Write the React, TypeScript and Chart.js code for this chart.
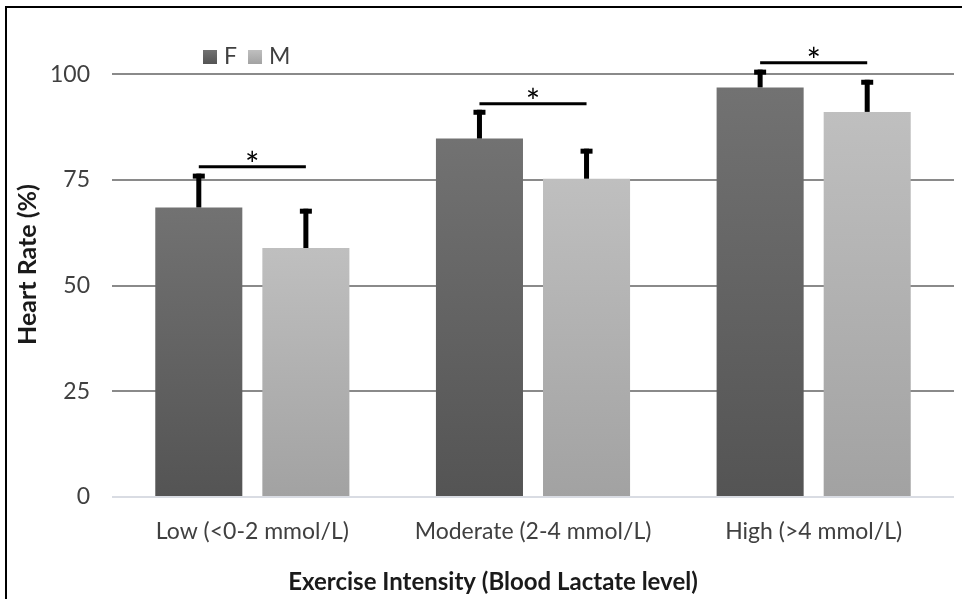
import React, { useEffect, useRef } from "react";
import { Chart, registerables } from "chart.js";

Chart.register(...registerables);

const categories = ["Low (<0-2 mmol/L)", "Moderate (2-4 mmol/L)", "High (>4 mmol/L)"];
const seriesNames = ["F", "M"];
const femaleValues = [68.5, 84.8, 96.9];
const maleValues = [58.9, 75.3, 91.1];
const femaleErrors = [8.0, 6.8, 4.2];
const maleErrors = [9.3, 7.1, 7.6];
const significanceLevels = [78.1, 93.0, 102.7];
const significanceMark = "*";
const yTickValues = [0, 25, 50, 75, 100];
const yMax = 110;
const xTitle = "Exercise Intensity (Blood Lactate level)";
const yTitle = "Heart Rate (%)";

const FONT = "Lato, 'Open Sans', sans-serif";
const F_TOP = "#727272";
const F_BOTTOM = "#545454";
const M_TOP = "#bfbfbf";
const M_BOTTOM = "#a2a2a2";

function barGradient(top: string, bottom: string) {
  return (ctx: any) => {
    const chart = ctx.chart;
    const yScale = chart.scales && chart.scales.y;
    if (!yScale || ctx.type !== "data") return bottom;
    const v = ctx.parsed ? ctx.parsed.y : ctx.raw;
    const y0 = yScale.getPixelForValue(v);
    const y1 = yScale.getPixelForValue(0);
    if (!isFinite(y0) || !isFinite(y1) || y0 === y1) return bottom;
    const g = chart.ctx.createLinearGradient(0, y0, 0, y1);
    g.addColorStop(0, top);
    g.addColorStop(1, bottom);
    return g;
  };
}

const overlayPlugin = {
  id: "overlay",
  afterDatasetsDraw(chart: any) {
    const ctx = chart.ctx;
    const yScale = chart.scales.y;
    const errs = [femaleErrors, maleErrors];
    const vals = [femaleValues, maleValues];
    ctx.save();
    ctx.fillStyle = "#000";
    for (let i = 0; i < 2; i++) {
      const meta = chart.getDatasetMeta(i);
      meta.data.forEach((bar: any, j: number) => {
        const x = bar.x;
        const yTop = bar.y;
        const eTop = yScale.getPixelForValue(vals[i][j] + errs[i][j]);
        ctx.fillRect(x - 2.5, eTop, 5, yTop - eTop);
        ctx.fillRect(x - 6, eTop, 12, 5);
      });
    }
    const mf = chart.getDatasetMeta(0);
    const mm = chart.getDatasetMeta(1);
    significanceLevels.forEach((lvl, j) => {
      const x1 = mf.data[j].x;
      const x2 = mm.data[j].x;
      const y = yScale.getPixelForValue(lvl);
      ctx.strokeStyle = "#000";
      ctx.lineWidth = 3;
      ctx.beginPath();
      ctx.moveTo(x1, y);
      ctx.lineTo(x2, y);
      ctx.stroke();
      ctx.font = `34px ${FONT}`;
      ctx.textAlign = "center";
      ctx.textBaseline = "alphabetic";
      ctx.fillStyle = "#000";
      ctx.fillText(significanceMark, (x1 + x2) / 2, y + 10);
    });
    // legend
    const colors = [
      [F_TOP, F_BOTTOM],
      [M_TOP, M_BOTTOM],
    ];
    ctx.font = `23px ${FONT}`;
    ctx.textAlign = "left";
    ctx.textBaseline = "middle";
    let lx = 203;
    const ly = 57;
    seriesNames.forEach((name, i) => {
      const g = ctx.createLinearGradient(0, ly - 7, 0, ly + 7);
      g.addColorStop(0, colors[i][0]);
      g.addColorStop(1, colors[i][1]);
      ctx.fillStyle = g;
      ctx.fillRect(lx, ly - 7, 14, 14);
      ctx.fillStyle = "#404040";
      ctx.fillText(name, lx + 21, ly);
      lx += 21 + ctx.measureText(name).width + 11;
    });
    // x-axis title (offset left of plot centre, as in the original)
    ctx.font = `bold 24px ${FONT}`;
    ctx.textAlign = "center";
    ctx.textBaseline = "middle";
    ctx.fillStyle = "#1a1a1a";
    ctx.fillText(xTitle, 493, 582);
    ctx.restore();
  },
};

export default function App() {
  const ref = useRef<HTMLCanvasElement | null>(null);

  useEffect(() => {
    if (!ref.current) return;
    const chart = new Chart(ref.current, {
      type: "bar",
      data: {
        labels: categories,
        datasets: [
          {
            label: seriesNames[0],
            data: femaleValues,
            backgroundColor: barGradient(F_TOP, F_BOTTOM),
            barPercentage: 0.813,
            categoryPercentage: 0.763,
          },
          {
            label: seriesNames[1],
            data: maleValues,
            backgroundColor: barGradient(M_TOP, M_BOTTOM),
            barPercentage: 0.813,
            categoryPercentage: 0.763,
          },
        ],
      },
      options: {
        responsive: false,
        animation: false,
        devicePixelRatio: 1,
        layout: { padding: { left: 0, right: 8, top: 32, bottom: 0 } },
        plugins: {
          legend: { display: false },
          tooltip: { enabled: false },
        },
        scales: {
          x: {
            grid: { display: false, drawTicks: false },
            border: { display: false },
            ticks: {
              color: "#404040",
              font: { family: FONT, size: 23 },
              padding: 21,
              maxRotation: 0,
            },
            title: { display: false, text: xTitle },
            afterFit: (s: any) => {
              s.height = 102;
              s.paddingLeft = 0;
              s.paddingRight = 0;
            },
          },
          y: {
            min: 0,
            max: yMax,
            grid: {
              drawTicks: false,
              color: (c: any) => (c.tick && c.tick.value === 0 ? "#d9dce3" : "#8a8a8a"),
              lineWidth: 2,
            },
            border: { display: false },
            ticks: {
              color: "#404040",
              font: { family: FONT, size: 23 },
              padding: 22,
            },
            title: {
              display: true,
              text: yTitle,
              color: "#1a1a1a",
              font: { family: FONT, size: 25, weight: "bold" },
              padding: { top: 13, bottom: 0 },
            },
            afterBuildTicks: (s: any) => {
              s.ticks = yTickValues.map((v) => ({ value: v }));
            },
            afterFit: (s: any) => {
              s.width = 112;
              s.paddingTop = 0;
              s.paddingBottom = 0;
            },
          },
        },
      },
      plugins: [overlayPlugin],
    });
    return () => chart.destroy();
  }, []);

  return (
    <div
      style={{
        position: "fixed",
        left: 0,
        top: 0,
        width: 962,
        height: 599,
        background: "#fff",
        overflow: "hidden",
      }}
    >
      <canvas ref={ref} width={962} height={599} style={{ position: "absolute", left: 0, top: 0 }} />
      <div style={{ position: "absolute", left: 5, top: 6, width: 957, height: 2, background: "#000" }} />
      <div style={{ position: "absolute", left: 5, top: 6, width: 2, height: 593, background: "#000" }} />
    </div>
  );
}
